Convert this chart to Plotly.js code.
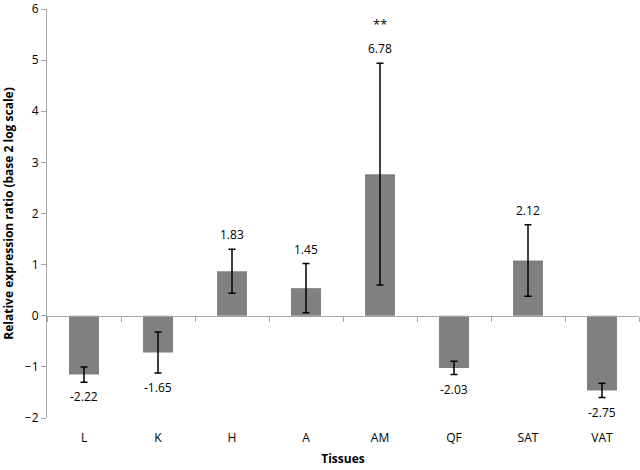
<!DOCTYPE html>
<html>
<head>
<meta charset="utf-8">
<script src="https://cdn.plot.ly/plotly-3.0.1.min.js"></script>
<style>html,body{margin:0;padding:0;background:#fff}#chart{width:640px;height:470px}</style>
</head>
<body>
<div id="chart"></div>
<script>
// Data
var tissues = ['L', 'K', 'H', 'A', 'AM', 'QF', 'SAT', 'VAT'];
var log2Ratio = [-1.15, -0.72, 0.87, 0.54, 2.77, -1.02, 1.08, -1.46];
var errorSize = [0.15, 0.40, 0.43, 0.48, 2.17, 0.13, 0.70, 0.14];
var foldLabels = ['-2.22', '-1.65', '1.83', '1.45', '6.78', '-2.03', '2.12', '-2.75'];
var sigMarks = ['', '', '', '', '**', '', '', ''];
var yTicks = [-2, -1, 0, 1, 2, 3, 4, 5, 6];

var FONT = 'Open Sans, Noto Sans, sans-serif';
var AXIS_GRAY = '#a6a6a6';

var bars = {
  type: 'bar',
  x: tissues,
  y: log2Ratio,
  marker: {color: '#808080', line: {width: 0}},
  error_y: {type: 'data', array: errorSize, visible: true, color: '#000', thickness: 1.5, width: 3.5},
  hoverinfo: 'x+y',
  showlegend: false
};

// invisible helper trace so the boundary-tick axis at y=0 is drawn
var helper = {
  type: 'scatter', mode: 'markers',
  x: [0], y: [0], xaxis: 'x2',
  marker: {opacity: 0}, hoverinfo: 'skip', showlegend: false
};

var annotations = [];
tissues.forEach(function (t, i) {
  var v = log2Ratio[i];
  var pos = v >= 0;
  var yEnd = pos ? v + errorSize[i] : v - errorSize[i];
  annotations.push({
    x: t, y: yEnd, xref: 'x', yref: 'y',
    text: foldLabels[i], showarrow: false,
    yanchor: pos ? 'bottom' : 'top',
    yshift: pos ? 4 : -4,
    font: {family: FONT, size: 12, color: '#000'}
  });
  if (sigMarks[i]) {
    annotations.push({
      x: t, y: yEnd, xref: 'x', yref: 'y',
      text: sigMarks[i], showarrow: false,
      yanchor: 'bottom', yshift: 28,
      font: {family: FONT, size: 13, color: '#000'}
    });
  }
});

var yMin = yTicks[0], yMax = yTicks[yTicks.length - 1];

var layout = {
  width: 640, height: 470,
  margin: {l: 47, r: 1, t: 9, b: 52},
  paper_bgcolor: '#fff', plot_bgcolor: '#fff',
  bargap: 0.595,
  font: {family: FONT, size: 12, color: '#000'},
  xaxis: {
    type: 'category',
    range: [-0.5, tissues.length - 0.5],
    showline: false, showgrid: false, zeroline: false,
    ticks: '', ticklen: 0,
    ticklabelstandoff: 11,
    tickfont: {family: FONT, size: 12, color: '#000'},
    title: {text: '<b>Tissues</b>', font: {family: FONT, size: 12, color: '#000'}, standoff: 9}
  },
  xaxis2: {
    overlaying: 'x', anchor: 'free',
    position: (0 - yMin) / (yMax - yMin),
    range: [-0.5, tissues.length - 0.5],
    tick0: -0.5, dtick: 1,
    showline: true, linecolor: AXIS_GRAY, linewidth: 1,
    ticks: 'outside', ticklen: 5, tickcolor: AXIS_GRAY, tickwidth: 1,
    showticklabels: false, showgrid: false, zeroline: false
  },
  yaxis: {
    range: [yMin, yMax],
    tickvals: yTicks,
    showline: true, linecolor: AXIS_GRAY, linewidth: 1,
    ticks: 'outside', ticklen: 5, tickcolor: AXIS_GRAY, tickwidth: 1,
    showgrid: false, zeroline: false,
    tickfont: {family: FONT, size: 12, color: '#000'},
    title: {text: '<b>Relative expression ratio (base 2 log scale)</b>', font: {family: FONT, size: 12, color: '#000'}, standoff: 8}
  },
  annotations: annotations
};

Plotly.newPlot('chart', [bars, helper], layout, {displayModeBar: false, staticPlot: true});
</script>
</body>
</html>
